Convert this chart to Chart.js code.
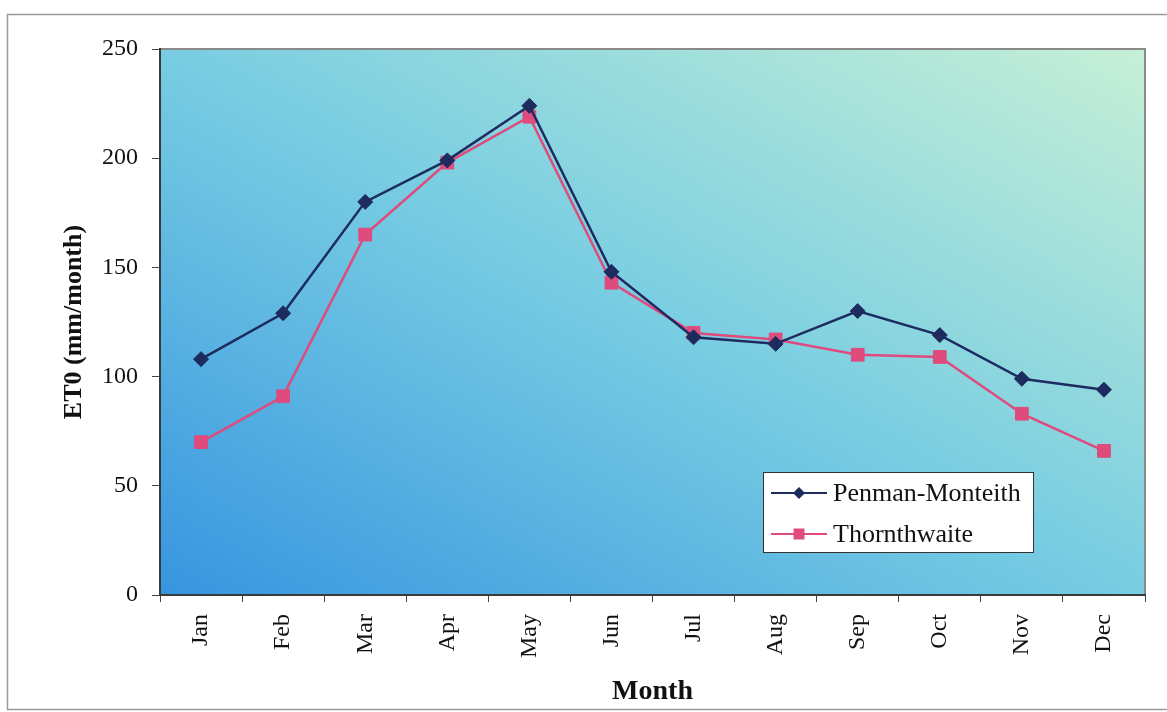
<!DOCTYPE html>
<html lang="en">
<head>
<meta charset="utf-8">
<title>ET0 mensual</title>
<script src="https://cdn.jsdelivr.net/npm/chart.js@4.4.1/dist/chart.umd.min.js"></script>
<style>
  html, body { margin: 0; padding: 0; background: #ffffff; }
  #contenedor { width: 1167px; height: 712px; }
</style>
</head>
<body>
<div id="contenedor"><canvas id="graficaET0" width="1167" height="712"></canvas></div>
<script>
// =================== Datos ===================

// Meses del eje X.
const MESES = ["Jan", "Feb", "Mar", "Apr", "May", "Jun", "Jul", "Aug", "Sep", "Oct", "Nov", "Dec"];

// ET0 mensual (mm/mes) por método.
const PENMAN_MONTEITH = [108, 129, 180, 199, 224, 148, 118, 115, 130, 119, 99, 94];
const THORNTHWAITE = [70, 91, 165, 198, 219, 143, 120, 117, 110, 109, 83, 66];

// Marcas del eje Y.
const TICKS_Y = [0, 50, 100, 150, 200, 250];


// =================== Estilo ===================

const FUENTE = '"Liberation Serif", "Times New Roman", serif';
const COLOR_PM = "#1d2b5f";
const COLOR_TH = "#de4b7c";

Chart.defaults.font.family = FUENTE;
Chart.defaults.color = "#111111";


// =================== Plugins ===================

// Fondo blanco, marco exterior y degradado del área de trazado.
const fondoGrafica = {
  id: "fondoGrafica",
  beforeDraw(chart) {
    const { ctx, chartArea: a } = chart;
    ctx.save();
    ctx.fillStyle = "#ffffff";
    ctx.fillRect(0, 0, chart.width, chart.height);

    // marco exterior (el borde derecho queda fuera del lienzo)
    ctx.strokeStyle = "#9a9a9a";
    ctx.lineWidth = 1.5;
    ctx.strokeRect(7.5, 14.5, chart.width + 20, 695);

    // degradado diagonal: azul abajo-izquierda, verde pálido arriba-derecha;
    // las esquinas arriba-izquierda y abajo-derecha quedan en el tono medio
    const W = a.right - a.left, H = a.bottom - a.top;
    const cx = a.left + W / 2, cy = a.top + H / 2;
    const L2 = W * W + H * H;
    const k = (W * H) / L2;
    const g = ctx.createLinearGradient(cx - k * H, cy + k * W, cx + k * H, cy - k * W);
    g.addColorStop(0, "#3795e0");
    g.addColorStop(0.5, "#78cde2");
    g.addColorStop(1, "#c6f0d6");
    ctx.fillStyle = g;
    ctx.fillRect(a.left, a.top, W, H);

    // borde superior y derecho del área
    ctx.strokeStyle = "#8a8a8a";
    ctx.lineWidth = 2;
    ctx.beginPath();
    ctx.moveTo(a.left, a.top);
    ctx.lineTo(a.right, a.top);
    ctx.lineTo(a.right, a.bottom);
    ctx.stroke();
    ctx.restore();
  }
};

// Leyenda con recuadro blanco dentro del área de trazado.
const leyendaInterna = {
  id: "leyendaInterna",
  afterDraw(chart) {
    const { ctx } = chart;
    const x = 763, y = 472, w = 270, h = 80;
    ctx.save();
    ctx.fillStyle = "#ffffff";
    ctx.fillRect(x, y, w, h);
    ctx.strokeStyle = "#333333";
    ctx.lineWidth = 1;
    ctx.strokeRect(x + 0.5, y + 0.5, w, h);

    ctx.font = `26px ${FUENTE}`;
    ctx.textBaseline = "middle";
    chart.data.datasets.forEach((ds, i) => {
      const fy = y + 21 + i * 41;
      ctx.strokeStyle = ds.borderColor;
      ctx.fillStyle = ds.borderColor;
      ctx.lineWidth = 2;
      ctx.beginPath();
      ctx.moveTo(x + 8, fy);
      ctx.lineTo(x + 64, fy);
      ctx.stroke();

      const cx = x + 36;
      ctx.beginPath();
      if (ds.pointStyle === "rectRot") {
        ctx.moveTo(cx, fy - 6);
        ctx.lineTo(cx + 6, fy);
        ctx.lineTo(cx, fy + 6);
        ctx.lineTo(cx - 6, fy);
        ctx.closePath();
      } else {
        ctx.rect(cx - 5.5, fy - 5.5, 11, 11);
      }
      ctx.fill();

      ctx.fillStyle = "#111111";
      ctx.fillText(ds.label, x + 70, fy + 1);
    });
    ctx.restore();
  }
};


// =================== Gráfica ===================

const ctxET0 = document.getElementById("graficaET0").getContext("2d");

const grafica = new Chart(ctxET0, {
  type: "line",
  data: {
    labels: MESES,
    datasets: [
      {
        label: "Penman-Monteith",
        data: PENMAN_MONTEITH,
        borderColor: COLOR_PM,
        backgroundColor: COLOR_PM,
        borderWidth: 2.5,
        pointStyle: "rectRot",
        pointRadius: 7.5,
        pointBorderWidth: 1,
        tension: 0
      },
      {
        label: "Thornthwaite",
        data: THORNTHWAITE,
        borderColor: COLOR_TH,
        backgroundColor: COLOR_TH,
        borderWidth: 2.5,
        pointStyle: "rect",
        pointRadius: 9,
        pointBorderWidth: 1,
        tension: 0
      }
    ]
  },
  plugins: [fondoGrafica, leyendaInterna],
  options: {
    responsive: false,
    animation: false,
    devicePixelRatio: 1,
    layout: { padding: { left: 57, top: 49, right: 22, bottom: 1 } },
    plugins: {
      legend: { display: false },
      tooltip: { enabled: false }
    },
    scales: {
      x: {
        offset: true,
        afterFit: (s) => { s.height = 116; },
        grid: {
          offset: true,
          drawOnChartArea: false,
          tickLength: 7,
          color: "#444444"
        },
        border: { color: "#3a3a3a", width: 2 },
        ticks: {
          minRotation: 90,
          maxRotation: 90,
          padding: 12,
          font: { size: 24 },
          color: "#111111"
        },
        title: {
          display: true,
          text: "Month",
          font: { size: 28, weight: "bold" },
          color: "#111111",
          padding: { top: 0, bottom: 2 }
        }
      },
      y: {
        min: 0,
        max: 250,
        afterFit: (s) => { s.width = 103; },
        afterBuildTicks: (s) => { s.ticks = TICKS_Y.map(v => ({ value: v })); },
        grid: {
          drawOnChartArea: false,
          tickLength: 8,
          color: "#444444"
        },
        border: { color: "#3a3a3a", width: 2 },
        ticks: {
          padding: 14,
          font: { size: 24 },
          color: "#111111"
        },
        title: {
          display: true,
          text: "ET0 (mm/month)",
          font: { size: 26, weight: "bold" },
          color: "#111111",
          padding: { top: 2, bottom: 0 }
        }
      }
    }
  }
});
</script>
</body>
</html>
